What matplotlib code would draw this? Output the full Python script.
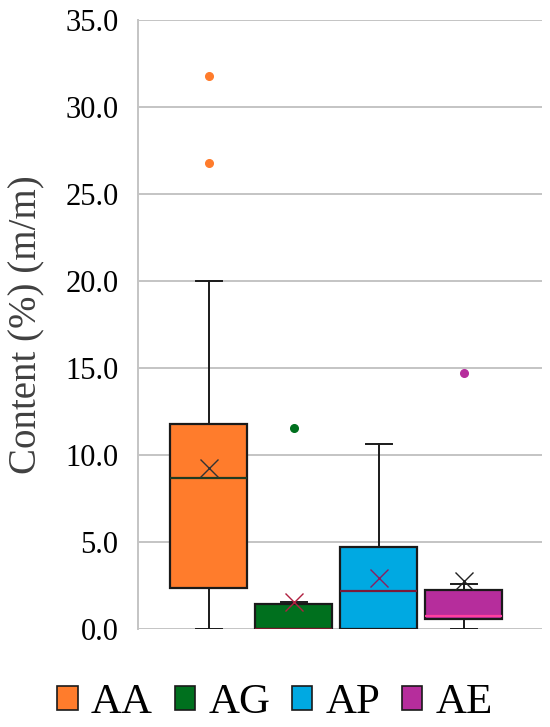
import numpy as np
import matplotlib.pyplot as plt
from matplotlib.patches import Patch

plt.rcParams['font.family'] = ['Liberation Serif', 'DejaVu Serif']

# Box statistics
labels = ['AA', 'AG', 'AP', 'AE']
q1 = [2.37, 0.0, 0.0, 0.56]
med = [8.7, 0.0, 2.2, 0.75]
q3 = [11.76, 1.42, 4.73, 2.24]
whislo = [0.0, 0.0, 0.0, 0.0]
whishi = [20.0, 1.55, 10.65, 2.6]
means = [9.24, 1.55, 2.91, 2.75]
fliers = [[26.8, 31.8], [11.55], [], [14.7]]

face_colors = ['#FF7C2C', '#00701E', '#00A9E2', '#B62D9C']
median_colors = ['#1f3b22', '#7a1a2e', '#7a1a3a', '#FF3FA0']
mean_colors = ['#333333', '#b02040', '#8a2060', '#222222']

stats = []
for i in range(len(labels)):
    stats.append(dict(label=labels[i], q1=q1[i], med=med[i], q3=q3[i],
                      whislo=whislo[i], whishi=whishi[i], mean=means[i],
                      fliers=fliers[i]))

fig = plt.figure(figsize=(5.5, 7.27), dpi=100)
ax = fig.add_axes([0.2509, 0.1348, 0.7346, 0.8377])

pos = np.arange(1, len(labels) + 1)
bp = ax.bxp(stats, positions=pos, widths=0.906, capwidths=0.3,
            showmeans=True, patch_artist=True, manage_ticks=False,
            boxprops=dict(edgecolor='#1a1a1a', linewidth=1.6),
            whiskerprops=dict(color='#1a1a1a', linewidth=1.4),
            capprops=dict(color='#1a1a1a', linewidth=1.4),
            medianprops=dict(linewidth=1.6),
            meanprops=dict(marker='x', markersize=13, markeredgewidth=1.0),
            flierprops=dict(marker='o', markersize=5.5))

for i in range(len(labels)):
    bp['boxes'][i].set_facecolor(face_colors[i])
    bp['boxes'][i].set_zorder(3)
    bp['medians'][i].set_color(median_colors[i])
    bp['medians'][i].set_zorder(4)
    bp['means'][i].set_markeredgecolor(mean_colors[i])
    bp['means'][i].set_zorder(5)
    bp['fliers'][i].set_markerfacecolor(face_colors[i])
    bp['fliers'][i].set_markeredgecolor(face_colors[i])
for art in bp['whiskers'] + bp['caps']:
    art.set_zorder(2)

ax.set_xlim(0.165, 4.918)
ax.set_ylim(0, 35)
ax.set_yticks(np.arange(0, 36, 5))
ax.set_yticklabels(['%.1f' % v for v in np.arange(0, 36, 5)], fontsize=22)
ax.set_xticks([])
ax.tick_params(axis='y', length=0, pad=14)
ax.yaxis.grid(True, color='#c4c4c4', linewidth=1.4, zorder=0)
ax.set_axisbelow(True)
for s in ['top', 'right', 'bottom']:
    ax.spines[s].set_visible(False)
ax.spines['left'].set_color('#c4c4c4')
ax.spines['left'].set_linewidth(1.4)

ax.set_ylabel('Content (%) (m/m)', fontsize=28, color='#404040', labelpad=14)

handles = [Patch(facecolor=c, edgecolor='#1a1a1a', linewidth=1.2) for c in face_colors]
fig.legend(handles, labels, loc='center', bbox_to_anchor=(0.5, 0.033), ncol=4,
           frameon=False, fontsize=31, handlelength=0.48, handleheight=0.48,
           handletextpad=0.3, columnspacing=0.5)

fig.savefig('out.png', dpi=100)
